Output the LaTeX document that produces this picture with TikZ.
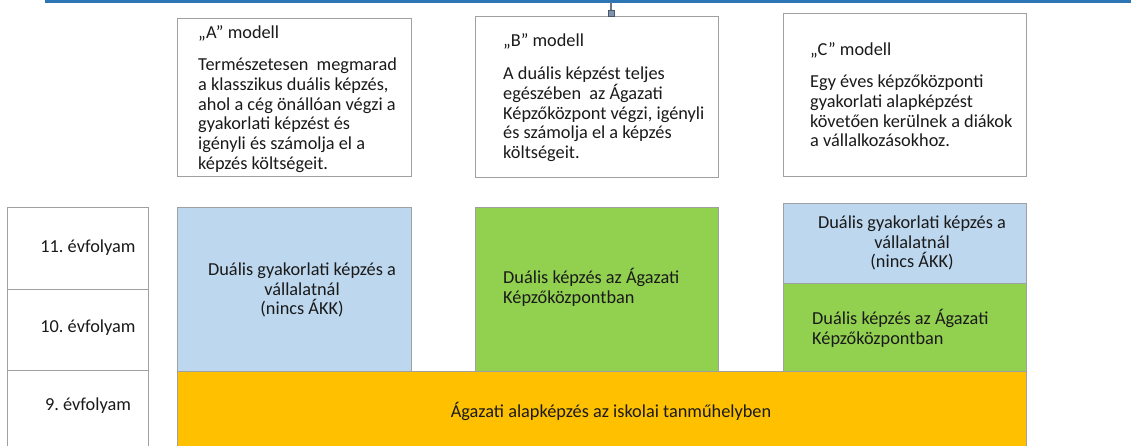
\documentclass[tikz,border=0pt]{standalone}
\usepackage{fontspec}
\setmainfont{Carlito}
\frenchspacing
\definecolor{topblue}{HTML}{2E75B6}
\definecolor{boxgray}{HTML}{A0A0A0}
\definecolor{lblue}{HTML}{BDD7EE}
\definecolor{lgreen}{HTML}{92D050}
\definecolor{lyellow}{HTML}{FFC000}
\definecolor{handle}{HTML}{7F93B0}
\definecolor{txt}{HTML}{1A1A1A}
\tikzset{
  px/.style={x=1pt,y=-1pt},
  boxbase/.style={draw=boxgray, line width=1.3pt, anchor=north west, inner sep=0pt, rectangle},
  modelbox/.style={boxbase, fill=white},
  yearbox/.style={boxbase, fill=white},
  bluebox/.style={boxbase, fill=lblue},
  greenbox/.style={boxbase, fill=lgreen},
  yellowbox/.style={boxbase, fill=lyellow},
  txtstyle/.style={text=txt, inner sep=0pt, font=\fontsize{18.3}{19.8}\selectfont},
  lefttxt/.style={txtstyle, align=left, anchor=north west},
  centertxt/.style={txtstyle, align=center, anchor=center},
}
\begin{document}
\begin{tikzpicture}[px]
\useasboundingbox (0,0) rectangle (1131,445);
% top line and connector
\coordinate (tl) at (45,1.5);
\coordinate (tr) at (1131,1.5);
\coordinate (cs) at (611,1.5);
\coordinate (ce) at (611,16);
\draw[topblue, line width=2.6pt] (tl) -- (tr);
% model boxes
\node[modelbox, minimum width=234pt, minimum height=158pt] (A) at (177,18) {};
\node[modelbox, minimum width=243pt, minimum height=161pt] (B) at (475,16) {};
\node[modelbox, minimum width=243pt, minimum height=163pt] (C) at (783,13) {};
\draw[handle!80!black, line width=1.2pt] (cs) -- (ce);
\node[fill=handle, draw=handle!60!black, line width=0.5pt, minimum size=6pt, inner sep=0pt] (hd) at (611,13) {};
% model texts
\node[lefttxt] (Ah) at (198,25.5) {„A” modell};
\node[lefttxt] (At) at (198,57.5) {Természetesen~ megmarad\\a klasszikus duális képzés,\\ahol a cég önállóan végzi a\\gyakorlati képzést és\\igényli és számolja el a\\képzés költségeit.};
\node[lefttxt] (Bh) at (503,33.5) {„B” modell};
\node[lefttxt] (Bt) at (503,66.5) {A duális képzést teljes\\egészében~ az Ágazati\\Képzőközpont végzi, igényli\\és számolja el a képzés\\költségeit.};
\node[lefttxt] (Ch) at (810,42.5) {„C” modell};
\node[lefttxt] (Ct) at (810,74.5) {Egy éves képzőközponti\\gyakorlati alapképzést\\követően kerülnek a diákok\\a vállalkozásokhoz.};
% year boxes
\node[yearbox, minimum width=141pt, minimum height=82pt] (y11) at (7,207) {};
\node[yearbox, minimum width=141pt, minimum height=81pt] (y10) at (7,289) {};
\node[yearbox, minimum width=141pt, minimum height=80pt] (y9) at (7,370) {};
\node[centertxt] (l11) at (88,248) {11. évfolyam};
\node[centertxt] (l10) at (88,328) {10. évfolyam};
\node[centertxt] (l9) at (88,406) {9. évfolyam};
% column boxes
\node[bluebox, minimum width=234pt, minimum height=164pt] (Ab) at (177,207) {};
\node[centertxt] (Abt) at (302,290) {Duális gyakorlati képzés a\\vállalatnál\\(nincs ÁKK)};
\node[greenbox, minimum width=243pt, minimum height=164pt] (Bg) at (475,207) {};
\node[lefttxt] (Bgt) at (503,268.5) {Duális képzés az Ágazati\\Képzőközpontban};
\node[bluebox, minimum width=243pt, minimum height=80pt] (Cb) at (783,203) {};
\node[centertxt] (Cbt) at (912,243) {Duális gyakorlati képzés a\\vállalatnál\\(nincs ÁKK)};
\node[greenbox, minimum width=243pt, minimum height=88pt] (Cg) at (783,283) {};
\node[lefttxt] (Cgt) at (812,309.5) {Duális képzés az Ágazati\\Képzőközpontban};
% yellow base
\node[yellowbox, minimum width=849pt, minimum height=80pt] (Y) at (177,371) {};
\node[centertxt] (Yt) at (611,411) {Ágazati alapképzés az iskolai tanműhelyben};
\end{tikzpicture}
\end{document}
